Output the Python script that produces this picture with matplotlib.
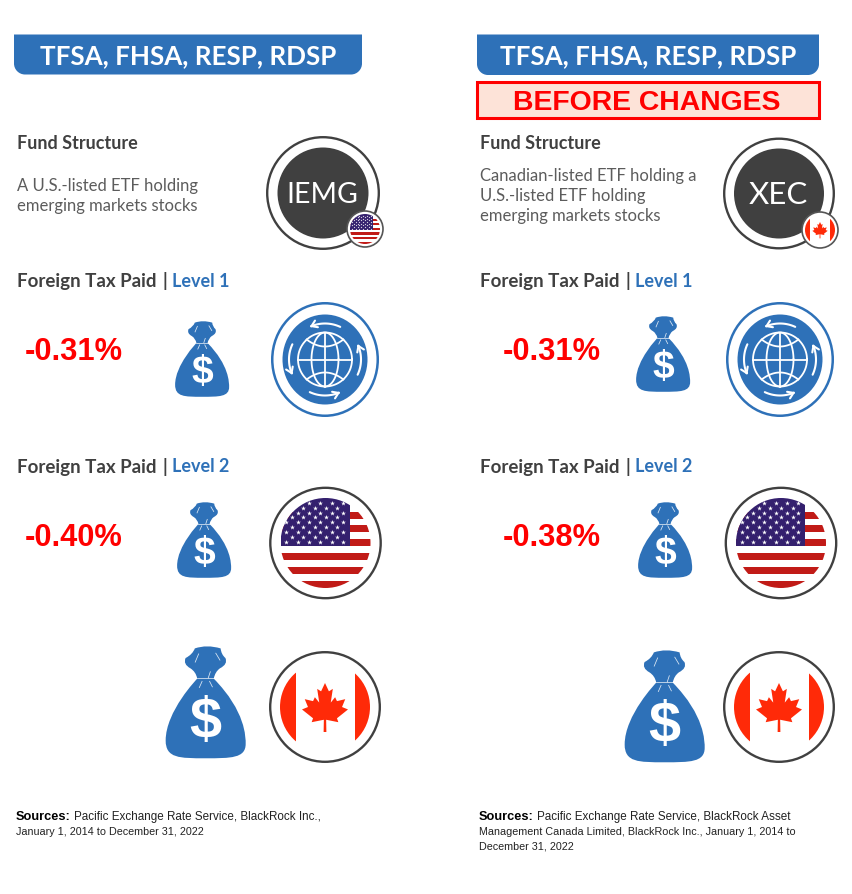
import numpy as np
import matplotlib
matplotlib.use("Agg")
import matplotlib.pyplot as plt
from matplotlib.patches import Circle, Ellipse, PathPatch, Rectangle, FancyArrowPatch
from matplotlib.path import Path

# ---- content ----
banner_text = "TFSA, FHSA, RESP, RDSP"
before_text = "BEFORE CHANGES"
section_fund = "Fund Structure"
section_tax = "Foreign Tax Paid"
level_labels = ["Level 1", "Level 2"]
tickers = ["IEMG", "XEC"]
desc_left = ["A U.S.-listed ETF holding", "emerging markets stocks"]
desc_right = ["Canadian-listed ETF holding a", "U.S.-listed ETF holding", "emerging markets stocks"]
tax_left = [-0.31, -0.40]
tax_right = [-0.31, -0.38]
src_left = ["Pacific Exchange Rate Service, BlackRock Inc.,", "January 1, 2014 to December 31, 2022"]
src_right = ["Pacific Exchange Rate Service, BlackRock Asset",
             "Management Canada Limited, BlackRock Inc., January 1, 2014 to",
             "December 31, 2022"]

BLUE = "#2e71b8"
DARK = "#404040"
TEXT = "#5c5c5c"
RED = "#ff0000"
CAN = "#ff2a08"
USR = "#c11b17"
USB = "#34206e"
SANS = "Lato"
ARIAL = "Liberation Sans"

fig = plt.figure(figsize=(8.52, 8.95), dpi=100, facecolor="white")
ax = fig.add_axes([0, 0, 1, 1])
ax.set_xlim(0, 852)
ax.set_ylim(895, 0)
ax.axis("off")


def banner(x0, x1, y0, y1, r=11):
    k = 0.55 * r
    verts = [(x0, y0), (x1, y0), (x1, y1 - r), (x1, y1 - r + k), (x1 - r + k, y1), (x1 - r, y1),
             (x0 + r, y1), (x0 + r - k, y1), (x0, y1 - r + k), (x0, y1 - r), (x0, y0)]
    codes = [Path.MOVETO, Path.LINETO, Path.LINETO, Path.CURVE4, Path.CURVE4, Path.CURVE4,
             Path.LINETO, Path.CURVE4, Path.CURVE4, Path.CURVE4, Path.CLOSEPOLY]
    ax.add_patch(PathPatch(Path(verts, codes), fc=BLUE, ec="none"))
    ax.text((x0 + x1) / 2, (y0 + y1) / 2 + 0.5, banner_text, color="white", fontsize=18.7,
            family=SANS, weight="bold", ha="center", va="center")


def bag(cx, top, w):
    s = w / 233.0
    P = lambda x, y: (cx + (x - 166) * s, top + (y - 25) * s)
    pts = [
        ((135, 32), Path.MOVETO),
        ((170, 20), Path.CURVE3), ((210, 32), Path.CURVE3),
        ((212, 50), Path.CURVE3), ((224, 60), Path.CURVE3),
        ((232, 78), Path.CURVE3), ((208, 90), Path.CURVE3),
        ((194, 100), Path.CURVE3), ((190, 120), Path.CURVE3),
        ((283, 215), Path.CURVE4), ((283, 290), Path.CURVE4), ((283, 310), Path.CURVE4),
        ((283, 352), Path.CURVE4), ((240, 352), Path.CURVE4), ((166, 352), Path.CURVE4),
        ((90, 352), Path.CURVE4), ((50, 352), Path.CURVE4), ((50, 300), Path.CURVE4),
        ((50, 215), Path.CURVE4), ((142, 120), Path.CURVE4), ((142, 120), Path.CURVE4),
        ((138, 100), Path.CURVE3), ((122, 90), Path.CURVE3),
        ((100, 78), Path.CURVE3), ((108, 60), Path.CURVE3),
        ((128, 50), Path.CURVE3), ((135, 32), Path.CURVE3),
        ((135, 32), Path.CLOSEPOLY),
    ]
    verts = [P(*p) for p, _ in pts]
    ax.add_patch(PathPatch(Path(verts, [c for _, c in pts]), fc=BLUE, ec="none", zorder=3))
    for a, b in [((142, 119), (190, 119)), ((146, 48), (136, 72)), ((196, 46), (208, 66)),
                 ((156, 128), (148, 146)), ((180, 100), (174, 118)), ((178, 128), (186, 144))]:
        pa, pb = P(*a), P(*b)
        ax.plot([pa[0], pb[0]], [pa[1], pb[1]], color="white", lw=0.55, alpha=0.85, zorder=4)
    dx, dy = P(166, 246)
    ax.text(dx, dy, "$", color="white", fontsize=w * 0.52, family=ARIAL, weight="bold",
            ha="center", va="center", zorder=4)


def ring(cx, cy, r, color=DARK, lw=1.7, z=2):
    ax.add_patch(Circle((cx, cy), r, fc="white", ec=color, lw=lw, zorder=z))


def us_flag(cx, cy, r, z=3):
    clip = Circle((cx, cy), r, fc="none", ec="none", zorder=z)
    ax.add_patch(clip)
    u = r / 45.0
    for i in range(6):
        y = cy - 31.5 * u + 13.8 * u * i
        rect = Rectangle((cx - r, y), 2 * r, 7.1 * u, fc=USR, ec="none", zorder=z)
        ax.add_patch(rect)
        rect.set_clip_path(clip)
    canton = Rectangle((cx - r, cy - r), 69 * u, 48 * u, fc=USB, ec="none", zorder=z + 0.1)
    ax.add_patch(canton)
    canton.set_clip_path(clip)
    xs, ys = [], []
    for row in range(9):
        n = 6 if row % 2 == 0 else 5
        off = 0 if row % 2 == 0 else 5.65 * u
        for c in range(n):
            xs.append(cx - r + (5.8 + 11.3 * c) * u + off)
            ys.append(cy - r + (5 + 4.83 * row) * u)
    pts = ax.scatter(xs, ys, marker="*", s=max(13 * u * u, 2.0), c="white", lw=0, zorder=z + 0.2)
    pts.set_clip_path(clip)


LEAF_R = [(0, -1), (0.17, -0.66), (0.34, -0.76), (0.25, -0.2), (0.44, -0.42), (0.52, -0.26),
          (0.88, -0.34), (0.74, -0.02), (1.0, 0.08), (0.52, 0.44), (0.58, 0.6), (0.05, 0.5),
          (0.06, 1.0)]


def ca_flag(cx, cy, r, z=3):
    clip = Circle((cx, cy), r, fc="none", ec="none", zorder=z)
    ax.add_patch(clip)
    u = r / 45.0
    for x0 in (cx - r, cx + 30 * u):
        rect = Rectangle((x0, cy - r), 15.5 * u, 2 * r, fc=CAN, ec="none", zorder=z)
        ax.add_patch(rect)
        rect.set_clip_path(clip)
    half = np.array(LEAF_R)
    other = half[::-1] * np.array([-1, 1])
    leaf = np.vstack([half, other[:-1]])
    ax.fill(cx + leaf[:, 0] * 23 * u, cy + 0.5 * u + leaf[:, 1] * 24.5 * u, color=CAN, lw=0, zorder=z + 0.1)


def globe(cx, cy):
    ax.add_patch(Ellipse((cx, cy), 105.5, 112.5, fc="white", ec=BLUE, lw=1.8, zorder=2))
    ax.add_patch(Ellipse((cx, cy), 85, 90, fc=BLUE, ec="none", zorder=3))
    R = 27
    kw = dict(color="white", lw=1.3, zorder=4)
    t = np.linspace(0, 2 * np.pi, 120)
    ax.plot(cx + R * np.cos(t), cy + R * np.sin(t), **kw)
    ax.plot(cx + R * 0.5 * np.cos(t), cy + R * np.sin(t), **kw)
    ax.plot([cx, cx], [cy - R, cy + R], **kw)
    ax.plot([cx - R, cx + R], [cy, cy], **kw)
    tt = np.linspace(-1, 1, 40)
    for sign in (-1, 1):
        ax.plot(cx + tt * R * 0.68, cy + sign * (20 - 7 * (1 - tt ** 2)), **kw)
    Ra = 36
    for a0, a1 in [(295, 245), (205, 155), (115, 65), (25, -25)]:
        a = np.radians(np.linspace(a0, a1, 24))
        path = Path(np.column_stack([cx + Ra * np.cos(a), cy + Ra * np.sin(a)]))
        ax.add_patch(FancyArrowPatch(path=path, arrowstyle="->,head_length=3,head_width=2",
                                     color="white", lw=1.5, zorder=4, mutation_scale=1.3))


def ticker_badge(cx, cy, label, R, r, fs):
    ring(cx, cy, R)
    ax.add_patch(Circle((cx, cy), r, fc=DARK, ec="none", zorder=3))
    ax.text(cx - 1, cy + 0.5, label, color="white", fontsize=fs, family=SANS, ha="center",
            va="center", zorder=4)


def level_title(x, y, label, xlab):
    ax.text(x, y + 1, section_tax, color=DARK, fontsize=13.5, family=SANS, weight="bold",
            ha="left", va="center")
    ax.text(xlab - 7, y + 0.5, "|", color=DARK, fontsize=13, family=SANS, weight="bold",
            ha="center", va="center")
    ax.text(xlab, y + 1, label, color=BLUE, fontsize=13, family=SANS, weight="bold",
            ha="left", va="center")


def pct(v):
    return f"{v:.2f}%"


def sources(x, y0, lines, xrest):
    ax.text(x, y0, "Sources:", color="black", fontsize=9.2, family=ARIAL, weight="bold",
            ha="left", va="center")
    for i, line in enumerate(lines):
        ax.text(xrest if i == 0 else x, y0 + i * 14.5, line, color="#222222",
                fontsize=8.35 if i == 0 else 7.75, family=ARIAL, ha="left", va="center")


# ---- left column ----
banner(14, 362, 35.5, 75.5)
ax.text(17, 143, section_fund, color=DARK, fontsize=13, family=SANS, weight="bold", va="center")
for i, line in enumerate(desc_left):
    ax.text(17, 185.5 + 20 * i, line, color=TEXT, fontsize=12, family=SANS, va="center")
ticker_badge(323, 194, tickers[0], 55.8, 45.5, 20.5)
ring(365, 230, 18, color="#555555", lw=1.2, z=5)
us_flag(365, 230, 15, z=5.2)

level_title(17, 280, level_labels[0], 172)
ax.text(25, 352, pct(tax_left[0]), color=RED, fontsize=22.2, family=ARIAL, weight="bold", va="center")
bag(202, 322, 54)
globe(325, 360.5)

level_title(17, 466, level_labels[1], 172)
ax.text(25, 538, pct(tax_left[1]), color=RED, fontsize=22.2, family=ARIAL, weight="bold", va="center")
bag(204, 503, 54)
ring(325.5, 544, 55.2)
us_flag(325.5, 544, 45)
bag(205.5, 647, 80)
ring(325, 708, 54.8)
ca_flag(325, 708, 45)
sources(16, 817.5, src_left, 74)

# ---- right column ----
banner(477, 819, 35.5, 76)
ax.add_patch(Rectangle((476.5, 82.5), 342, 36, fc="#fde3d8", ec=RED, lw=2.2))
ax.text(647, 103, before_text, color=RED, fontsize=20.4, family=ARIAL, weight="bold",
        ha="center", va="center")
ax.text(480, 143, section_fund, color=DARK, fontsize=13, family=SANS, weight="bold", va="center")
for i, line in enumerate(desc_right):
    ax.text(480, 175.5 + 20 * i, line, color=TEXT, fontsize=12, family=SANS, va="center")
ticker_badge(779, 194.5, tickers[1], 54.8, 45, 22.5)
ring(820, 231, 18, color="#555555", lw=1.2, z=5)
ca_flag(820, 231, 15, z=5.2)

level_title(480, 280, level_labels[0], 635)
ax.text(503, 352, pct(tax_right[0]), color=RED, fontsize=22.2, family=ARIAL, weight="bold", va="center")
bag(663, 317, 54)
globe(780, 360.5)

level_title(480, 466, level_labels[1], 635)
ax.text(503, 538, pct(tax_right[1]), color=RED, fontsize=22.2, family=ARIAL, weight="bold", va="center")
bag(665, 503, 54)
ring(781, 544, 55.2)
us_flag(781, 544, 45)
bag(664.5, 651, 80)
ring(779, 708, 54.8)
ca_flag(779, 708, 45)
sources(479, 817.5, src_right, 537)

fig.savefig("out.png", dpi=100, facecolor="white")
